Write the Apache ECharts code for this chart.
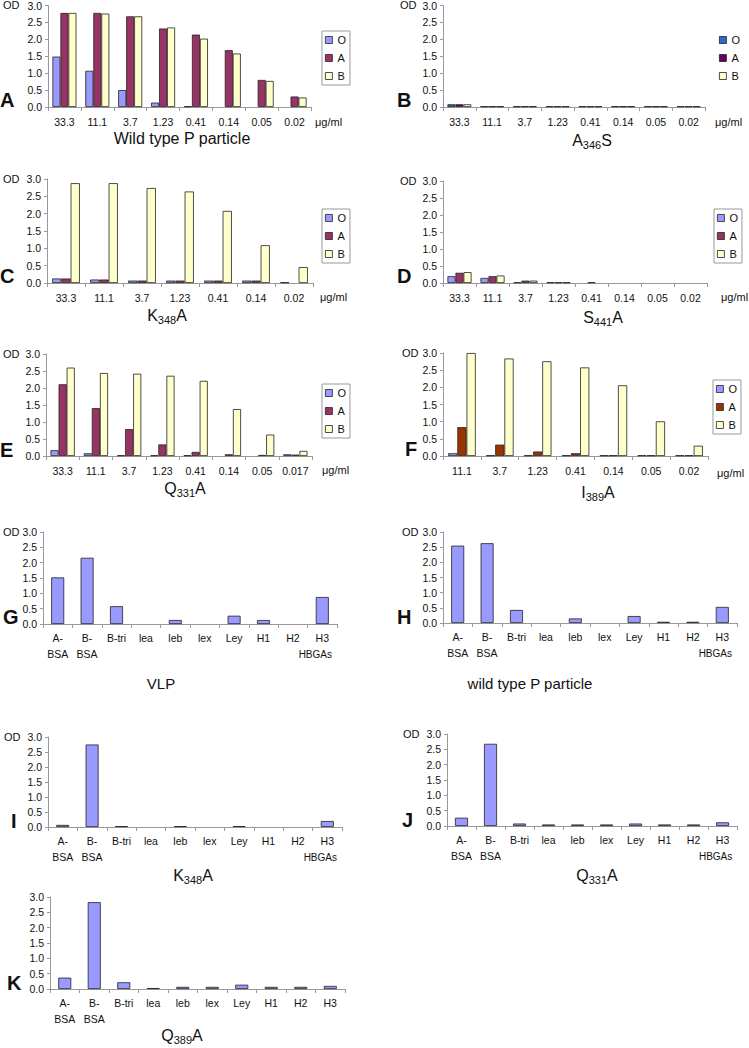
<!DOCTYPE html>
<html>
<head>
<meta charset="utf-8">
<script src="https://cdn.jsdelivr.net/npm/echarts@6/dist/echarts.min.js"></script>
<style>
html,body{margin:0;padding:0;background:#fff;}
#chart{width:749px;height:1048px;}
</style>
</head>
<body>
<div id="chart"></div>
<script>
// ---------- DATA ----------
const dosesA = ['33.3','11.1','3.7','1.23','0.41','0.14','0.05','0.02'];
const dosesC = ['33.3','11.1','3.7','1.23','0.41','0.14','0.02'];
const dosesE = ['33.3','11.1','3.7','1.23','0.41','0.14','0.05','0.017'];
const dosesF = ['11.1','3.7','1.23','0.41','0.14','0.05','0.02'];
const glycans = ['A-\nBSA','B-\nBSA','B-tri','lea','leb','lex','Ley','H1','H2','H3'];
const odTicks = [0,0.5,1.0,1.5,2.0,2.5,3.0];

const wtO = [1.49,1.07,0.5,0.13,0.02,0,0,0];
const wtA = [2.78,2.78,2.68,2.32,2.14,1.68,0.8,0.31];
const wtB = [2.78,2.76,2.68,2.35,2.02,1.58,0.77,0.28];

const a346sO = [0.08,0.02,0.02,0.02,0.02,0.02,0.02,0.02];
const a346sA = [0.08,0.02,0.02,0.02,0.02,0.02,0.02,0.02];
const a346sB = [0.08,0.02,0.02,0.02,0.02,0.02,0.02,0.02];

const k348aO = [0.13,0.1,0.07,0.07,0.07,0.07,0.02];
const k348aA = [0.13,0.1,0.07,0.07,0.07,0.07,0];
const k348aB = [2.88,2.88,2.74,2.64,2.08,1.09,0.46];

const s441aO = [0.2,0.15,0.02,0.02,0,0,0,0];
const s441aA = [0.3,0.2,0.07,0.02,0.02,0,0,0];
const s441aB = [0.32,0.22,0.07,0.02,0,0,0,0];

const q331aO = [0.17,0.08,0.02,0.02,0.02,0,0,0.05];
const q331aA = [2.11,1.41,0.79,0.34,0.12,0.05,0.03,0.04];
const q331aB = [2.6,2.44,2.42,2.36,2.21,1.38,0.63,0.15];

const i389aO = [0.08,0.02,0.02,0.02,0.02,0.02,0.02];
const i389aA = [0.84,0.33,0.13,0.08,0.02,0.02,0.02];
const i389aB = [3.0,2.84,2.76,2.58,2.06,1.01,0.3];

const vlpOD   = [1.52,2.16,0.58,0,0.13,0,0.27,0.13,0,0.88];
const wtPOD   = [2.55,2.63,0.43,0,0.15,0,0.23,0.04,0.04,0.53];
const k348aGly = [0.07,2.75,0.03,0,0.03,0,0.03,0,0,0.2];
const q331aGly = [0.27,2.68,0.08,0.05,0.05,0.05,0.08,0.05,0.05,0.12];
const q389aGly = [0.37,2.83,0.22,0.03,0.07,0.07,0.14,0.07,0.07,0.1];

// ---------- STYLE / LAYOUT ----------
const FF = '"Liberation Sans", Arial, sans-serif';
const C_O = '#9999FF', C_A = '#993366', C_B = '#FFFFCC';

const dosePanels = [
  {key:'A', cats:dosesA, grid:{left:48,top:5,width:263,height:102}, legend:{left:322,top:31,border:true},
   series:[['O',wtO,C_O],['A',wtA,C_A],['B',wtB,C_B]]},
  {key:'B', cats:dosesA, grid:{left:443,top:5,width:262,height:102}, legend:{left:716,top:31,border:false},
   series:[['O',a346sO,'#3366CC'],['A',a346sA,'#660066'],['B',a346sB,C_B]]},
  {key:'C', cats:dosesC, grid:{left:47,top:179,width:266,height:104}, legend:{left:322,top:209,border:true},
   series:[['O',k348aO,C_O],['A',k348aA,C_A],['B',k348aB,C_B]]},
  {key:'D', cats:dosesA, grid:{left:443,top:181,width:264,height:102}, legend:{left:714,top:209,border:true},
   series:[['O',s441aO,C_O],['A',s441aA,C_A],['B',s441aB,C_B]]},
  {key:'E', cats:dosesE, grid:{left:46,top:354,width:266,height:102}, legend:{left:322,top:384,border:true},
   series:[['O',q331aO,C_O],['A',q331aA,C_A],['B',q331aB,C_B]]},
  {key:'F', cats:dosesF, grid:{left:443,top:353,width:265,height:103}, legend:{left:713,top:380,border:true},
   series:[['O',i389aO,C_O],['A',i389aA,'#993300'],['B',i389aB,C_B]]}
];
const glyPanels = [
  {key:'G', data:vlpOD,   grid:{left:43,top:532,width:294,height:92}, hbgas:true},
  {key:'H', data:wtPOD,   grid:{left:443,top:532,width:294,height:91}, hbgas:true},
  {key:'I', data:k348aGly,grid:{left:48,top:737,width:294,height:90}, hbgas:true},
  {key:'J', data:q331aGly,grid:{left:447,top:734,width:295,height:92}, hbgas:true},
  {key:'K', data:q389aGly,grid:{left:50,top:897,width:295,height:92}, hbgas:false}
];

const grids = [], xAxes = [], yAxes = [], series = [], legends = [];
const toBar = arr => arr.map(v => v === 0 ? '-' : v);

function addAxes(grid, cats, labelOpt) {
  const gi = grids.length;
  grids.push(Object.assign({containLabel:false}, grid));
  xAxes.push({
    type:'category', gridIndex:gi, data:cats,
    axisLine:{lineStyle:{color:'#999',width:1}},
    axisTick:{show:true,length:4,interval:0,lineStyle:{color:'#999'}},
    axisLabel:Object.assign({interval:0,fontFamily:FF,fontSize:10.5,color:'#111',margin:9}, labelOpt||{}),
    splitLine:{show:false}
  });
  yAxes.push({
    type:'value', gridIndex:gi, min:odTicks[0], max:odTicks[odTicks.length-1], interval:0.5,
    axisLine:{show:true,lineStyle:{color:'#999',width:1}},
    axisTick:{show:true,length:3,lineStyle:{color:'#999'}},
    axisLabel:{fontFamily:FF,fontSize:10.5,color:'#111',margin:6,formatter:v=>v.toFixed(1)},
    splitLine:{show:false}
  });
  return gi;
}

dosePanels.forEach(p => {
  const gi = addAxes(p.grid, p.cats);
  const names = [];
  p.series.forEach(([nm, data, col]) => {
    const sName = p.key + '|' + nm;
    names.push(sName);
    series.push({
      type:'bar', name:sName, xAxisIndex:gi, yAxisIndex:gi, data:toBar(data),
      barGap:'0%', barCategoryGap:'27%',
      itemStyle:{color:col,borderColor:'#222',borderWidth:0.8},
      emphasis:{disabled:true}, animation:false
    });
  });
  legends.push({
    data:names, formatter:n=>n.split('|')[1], orient:'vertical', left:p.legend.left, top:p.legend.top,
    icon:'rect', itemWidth:7, itemHeight:7, itemGap:6,
    itemStyle:{borderColor:'#222',borderWidth:0.8},
    textStyle:{fontFamily:FF,fontSize:11,color:'#111',lineHeight:12},
    borderColor:p.legend.border?'#999':'transparent', borderWidth:p.legend.border?1:0,
    padding:[3,4,3,3], selectedMode:false
  });
});

glyPanels.forEach(p => {
  const gi = addAxes(p.grid, glycans, {
    lineHeight:16, margin:6, fontSize:10.5,
    formatter: v => (v === 'H3' && p.hbgas) ? 'H3\n{s|HBGAs}' : v,
    rich:{s:{fontFamily:FF,fontSize:10,color:'#111',lineHeight:16,padding:[0,14,0,0]}}
  });
  series.push({
    type:'bar', name:'gly'+p.key, xAxisIndex:gi, yAxisIndex:gi, data:toBar(p.data),
    barWidth:13, itemStyle:{color:C_O,borderColor:'#222',borderWidth:0.8},
    emphasis:{disabled:true}, animation:false
  });
});

// ---------- TEXT ANNOTATIONS ----------
const graphics = [];
function txt(x, y, text, font, align, extra) {
  graphics.push({type:'text', x:x, y:y, silent:true,
    style:Object.assign({text:text, font:font, fill:'#111', textAlign:align||'left', textVerticalAlign:'middle'}, extra||{})});
}
const fLetter = 'bold 20px ' + FF, fSmall = '11px ' + FF;
const subRich = {m:{font:'16px '+FF,fill:'#111'}, s:{font:'11px '+FF,fill:'#111',padding:[10,0,0,0]}};
function subTitle(x, y, a, sub, b) {
  txt(x, y, '{m|'+a+'}{s|'+sub+'}{m|'+b+'}', '16px '+FF, 'center', {rich:subRich});
}
// panel letters
[['A',0,100],['B',397,100],['C',0,276],['D',397,276],['E',0,450],['F',405,449],
 ['G',3,617],['H',397,617],['I',11,821],['J',402,820],['K',7,983]].forEach(([t,x,y])=>txt(x,y,t,fLetter));
// OD labels
[[3,5],[400,5],[3,179],[400,181],[3,354],[402,353],[3,532],[402,532],[4,737],[403,734]].forEach(([x,y])=>txt(x,y,'OD',fSmall));
// units
[[315,122],[715,122],[320,297],[721,297],[322,470],[717,473]].forEach(([x,y])=>txt(x,y,'μg/ml',fSmall));
// titles
txt(182,138,'Wild type P particle','16px '+FF,'center');
subTitle(592,140,'A','346','S');
subTitle(167,315,'K','348','A');
subTitle(603,317,'S','441','A');
subTitle(185,488,'Q','331','A');
subTitle(598,492,'I','389','A');
txt(161,683,'VLP','15px '+FF,'center');
txt(530,683,'wild type P particle','15px '+FF,'center');
subTitle(193,875,'K','348','A');
subTitle(597,875,'Q','331','A');
subTitle(182,1035,'Q','389','A');

const chart = echarts.init(document.getElementById('chart'), null, {renderer:'svg'});
chart.setOption({
  backgroundColor:'#fff', animation:false,
  grid:grids, xAxis:xAxes, yAxis:yAxes, series:series, legend:legends, graphic:graphics
});
</script>
</body>
</html>
